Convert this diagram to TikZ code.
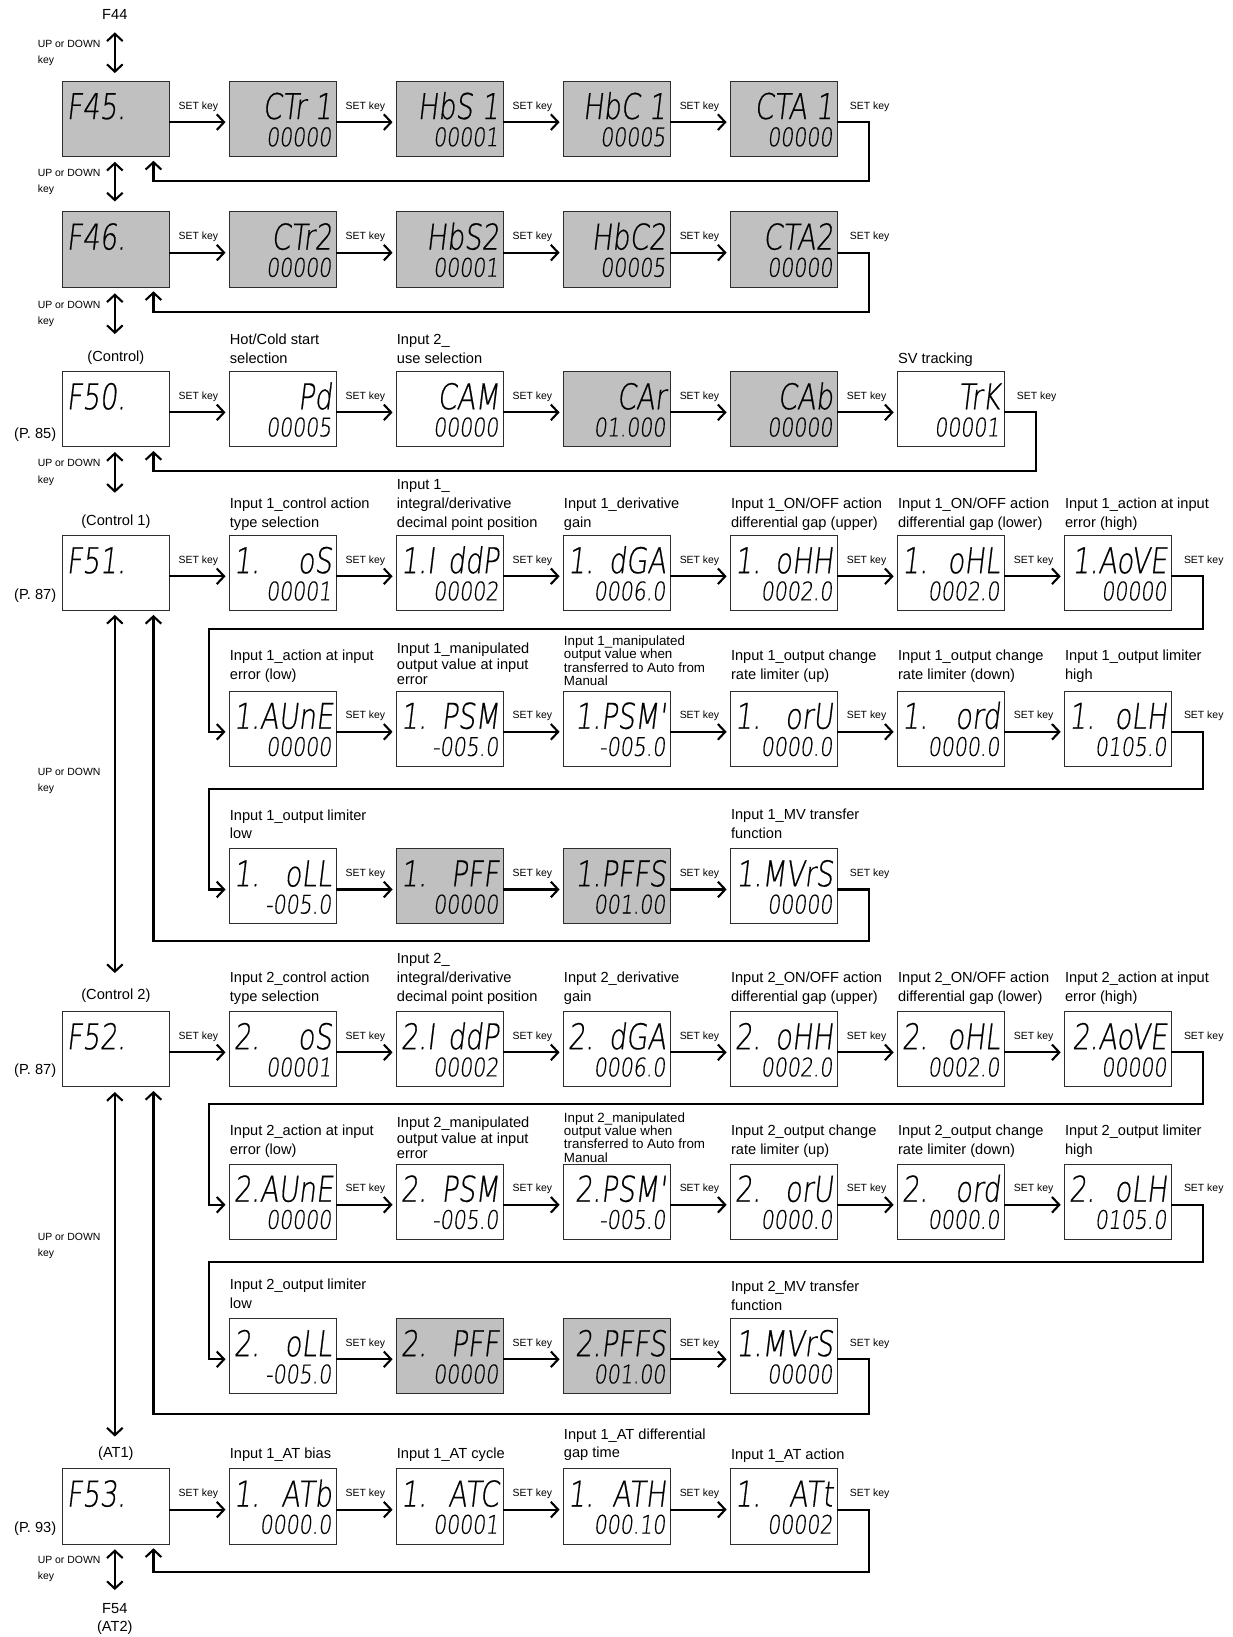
\documentclass[tikz,border=0pt]{standalone}
\usepackage{fontspec}
\setmainfont{Liberation Sans}
\IfFontExistsTF{DejaVu Sans ExtraLight}{%
 \newfontfamily\lcdfont[FakeSlant=0.12,FakeStretch=0.77,FakeBold=0.5]{DejaVu Sans ExtraLight}%
 \newfontfamily\lcdnum[FakeSlant=0.12,FakeStretch=0.80,FakeBold=0.4]{DejaVu Sans ExtraLight}}{%
 \newfontfamily\lcdfont[FakeSlant=0.12,FakeStretch=0.75]{Liberation Sans}%
 \newfontfamily\lcdnum[FakeSlant=0.12,FakeStretch=0.88]{Liberation Sans}}
\usetikzlibrary{arrows.meta,calc}
\definecolor{lcdg}{RGB}{192,192,192}
\definecolor{edgec}{RGB}{45,45,45}
\tikzset{
 dbox/.style={draw=edgec,line width=1pt,minimum width=102pt,minimum height=72pt,inner sep=0pt,outer sep=0pt},
 lcdgray/.style={fill=lcdg},
 lcdwhite/.style={fill=white},
 lcdt/.style={anchor=base east,inner sep=0pt,font=\lcdfont\fontsize{34pt}{34pt}\selectfont},
 lcdb/.style={anchor=base east,inner sep=0pt,font=\lcdnum\fontsize{24.5pt}{25pt}\selectfont},
 conn/.style={line width=2pt,-{Straight Barb[length=7pt,width=15pt]}},
 ud/.style={line width=2pt,{Straight Barb[length=7pt,width=15pt]}-{Straight Barb[length=7pt,width=15pt]}},
 lab/.style={anchor=north west,inner sep=0pt,align=left,font=\fontsize{14pt}{18pt}\selectfont},
 labm/.style={lab,font=\fontsize{14pt}{15pt}\selectfont},
 labs/.style={lab,font=\fontsize{12.8pt}{12.7pt}\selectfont},
 udl/.style={lab,font=\fontsize{10pt}{15.5pt}\selectfont},
 setkey/.style={anchor=base,inner sep=0pt,font=\fontsize{10pt}{12pt}\selectfont},
 side/.style={anchor=base,inner sep=0pt,font=\fontsize{14pt}{17pt}\selectfont},
}
\newcommand\dsp[6]{%
 \node[dbox,#4] (#1) at (#2+51,#3+36) {};
 \node[lcdt] (#1t) at (#2+98,#3+36) {\hbox to 94pt{\hfil #5}};
 \node[lcdb] (#1b) at (#2+97.5,#3+62) {#6};}
\newcommand\fnb[5]{%
 \node[dbox,#4] (#1) at (#2+51,#3+36) {};
 \node[lcdt,anchor=base west] (#1t) at (#2+3.5,#3+36) {#5};}
\newcommand\plab[5][lab]{\node[#1] (#2) at (#3,#4-7.2) {\rule{0pt}{12pt}#5};}
\newcommand\udlabel[2]{\node[udl] (#1) at (36,#2-8.4) {\rule{0pt}{12pt}UP or DOWN\\key};}
\newcommand\setarr[2]{%
 \draw[conn] ([yshift=-3pt]#1.east) -- ([yshift=-3pt,xshift=-4pt]#2.west);
 \node[setkey] (#1k) at ($(#1.east)!0.5!(#2.west)+(-1,-9.4)$) {SET key};}
\newcommand\tailkey[1]{\node[setkey] (#1k) at ($(#1.east)+(31,-9.4)$) {SET key};}
\begin{document}
\begin{tikzpicture}[x=1pt,y=-1pt]
\fill[white] (0,0) rectangle (1181,1568);
\useasboundingbox (0,0) rectangle (1181,1568);

% ---------- Row 1 (F45)
\fnb{r1c0}{60}{78}{lcdgray}{F45.}
\dsp{r1c1}{220}{78}{lcdgray}{CTr 1}{00000}
\dsp{r1c2}{380}{78}{lcdgray}{HbS 1}{00001}
\dsp{r1c3}{540}{78}{lcdgray}{HbC 1}{00005}
\dsp{r1c4}{700}{78}{lcdgray}{CTA 1}{00000}
% ---------- Row 2 (F46)
\fnb{r2c0}{60}{203}{lcdgray}{F46.}
\dsp{r2c1}{220}{203}{lcdgray}{CTr2}{00000}
\dsp{r2c2}{380}{203}{lcdgray}{HbS2}{00001}
\dsp{r2c3}{540}{203}{lcdgray}{HbC2}{00005}
\dsp{r2c4}{700}{203}{lcdgray}{CTA2}{00000}
% ---------- Row 3 (F50)
\fnb{r3c0}{60}{356}{lcdwhite}{F50.}
\dsp{r3c1}{220}{356}{lcdwhite}{Pd}{00005}
\dsp{r3c2}{380}{356}{lcdwhite}{CAM}{00000}
\dsp{r3c3}{540}{356}{lcdgray}{CAr}{01.000}
\dsp{r3c4}{700}{356}{lcdgray}{CAb}{00000}
\dsp{r3c5}{860}{356}{lcdwhite}{TrK}{00001}
\plab{l3c1}{220}{325}{Hot/Cold start\\selection}
\plab{l3c2}{380}{325}{Input 2\_\\use selection}
\plab{l3c5}{860}{343}{SV tracking}
% ---------- Row 4 (F51)
\fnb{r4c0}{60}{513}{lcdwhite}{F51.}
\dsp{r4c1}{220}{513}{lcdwhite}{1.\hfill oS}{00001}
\dsp{r4c2}{380}{513}{lcdwhite}{1.I\hfill ddP}{00002}
\dsp{r4c3}{540}{513}{lcdwhite}{1.\hfill dGA}{0006.0}
\dsp{r4c4}{700}{513}{lcdwhite}{1.\hfill oHH}{0002.0}
\dsp{r4c5}{860}{513}{lcdwhite}{1.\hfill oHL}{0002.0}
\dsp{r4c6}{1020}{513}{lcdwhite}{1.AoVE}{00000}
\plab{l4c1}{220}{482}{Input 1\_control action\\type selection}
\plab{l4c2}{380}{464}{Input 1\_\\integral/derivative\\decimal point position}
\plab{l4c3}{540}{482}{Input 1\_derivative\\gain}
\plab{l4c4}{700}{482}{Input 1\_ON/OFF action\\differential gap (upper)}
\plab{l4c5}{860}{482}{Input 1\_ON/OFF action\\differential gap (lower)}
\plab{l4c6}{1020}{482}{Input 1\_action at input\\error (high)}
% ---------- Row 5
\dsp{r5c1}{220}{662}{lcdwhite}{1.AUnE}{00000}
\dsp{r5c2}{380}{662}{lcdwhite}{1.\hfill PSM}{-005.0}
\dsp{r5c3}{540}{662}{lcdwhite}{1.PSM'}{-005.0}
\dsp{r5c4}{700}{662}{lcdwhite}{1.\hfill orU}{0000.0}
\dsp{r5c5}{860}{662}{lcdwhite}{1.\hfill ord}{0000.0}
\dsp{r5c6}{1020}{662}{lcdwhite}{1.\hfill oLH}{0105.0}
\plab{l5c1}{220}{628}{Input 1\_action at input\\error (low)}
\plab[labm]{l5c2}{380}{621}{Input 1\_manipulated\\output value at input\\error}
\plab[labs]{l5c3}{540}{613.5}{Input 1\_manipulated\\output value when\\transferred to Auto from\\Manual}
\plab{l5c4}{700}{628}{Input 1\_output change\\rate limiter (up)}
\plab{l5c5}{860}{628}{Input 1\_output change\\rate limiter (down)}
\plab{l5c6}{1020}{628}{Input 1\_output limiter\\high}
% ---------- Row 6
\dsp{r6c1}{220}{813}{lcdwhite}{1.\hfill oLL}{-005.0}
\dsp{r6c2}{380}{813}{lcdgray}{1.\hfill PFF}{00000}
\dsp{r6c3}{540}{813}{lcdgray}{1.PFFS}{001.00}
\dsp{r6c4}{700}{813}{lcdwhite}{1.MVrS}{00000}
\plab{l6c1}{220}{780.5}{Input 1\_output limiter\\low}
\plab{l6c4}{700}{780}{Input 1\_MV transfer\\function}
% ---------- Row 7 (F52)
\fnb{r7c0}{60}{969}{lcdwhite}{F52.}
\dsp{r7c1}{220}{969}{lcdwhite}{2.\hfill oS}{00001}
\dsp{r7c2}{380}{969}{lcdwhite}{2.I\hfill ddP}{00002}
\dsp{r7c3}{540}{969}{lcdwhite}{2.\hfill dGA}{0006.0}
\dsp{r7c4}{700}{969}{lcdwhite}{2.\hfill oHH}{0002.0}
\dsp{r7c5}{860}{969}{lcdwhite}{2.\hfill oHL}{0002.0}
\dsp{r7c6}{1020}{969}{lcdwhite}{2.AoVE}{00000}
\plab{l7c1}{220}{936}{Input 2\_control action\\type selection}
\plab{l7c2}{380}{918}{Input 2\_\\integral/derivative\\decimal point position}
\plab{l7c3}{540}{936}{Input 2\_derivative\\gain}
\plab{l7c4}{700}{936}{Input 2\_ON/OFF action\\differential gap (upper)}
\plab{l7c5}{860}{936}{Input 2\_ON/OFF action\\differential gap (lower)}
\plab{l7c6}{1020}{936}{Input 2\_action at input\\error (high)}
% ---------- Row 8
\dsp{r8c1}{220}{1115}{lcdwhite}{2.AUnE}{00000}
\dsp{r8c2}{380}{1115}{lcdwhite}{2.\hfill PSM}{-005.0}
\dsp{r8c3}{540}{1115}{lcdwhite}{2.PSM'}{-005.0}
\dsp{r8c4}{700}{1115}{lcdwhite}{2.\hfill orU}{0000.0}
\dsp{r8c5}{860}{1115}{lcdwhite}{2.\hfill ord}{0000.0}
\dsp{r8c6}{1020}{1115}{lcdwhite}{2.\hfill oLH}{0105.0}
\plab{l8c1}{220}{1083}{Input 2\_action at input\\error (low)}
\plab[labm]{l8c2}{380}{1075}{Input 2\_manipulated\\output value at input\\error}
\plab[labs]{l8c3}{540}{1070}{Input 2\_manipulated\\output value when\\transferred to Auto from\\Manual}
\plab{l8c4}{700}{1083}{Input 2\_output change\\rate limiter (up)}
\plab{l8c5}{860}{1083}{Input 2\_output change\\rate limiter (down)}
\plab{l8c6}{1020}{1083}{Input 2\_output limiter\\high}
% ---------- Row 9
\dsp{r9c1}{220}{1263}{lcdwhite}{2.\hfill oLL}{-005.0}
\dsp{r9c2}{380}{1263}{lcdgray}{2.\hfill PFF}{00000}
\dsp{r9c3}{540}{1263}{lcdgray}{2.PFFS}{001.00}
\dsp{r9c4}{700}{1263}{lcdwhite}{1.MVrS}{00000}
\plab{l9c1}{220}{1230}{Input 2\_output limiter\\low}
\plab{l9c4}{700}{1232}{Input 2\_MV transfer\\function}
% ---------- Row 10 (F53)
\fnb{r10c0}{60}{1407}{lcdwhite}{F53.}
\dsp{r10c1}{220}{1407}{lcdwhite}{1.\hfill ATb}{0000.0}
\dsp{r10c2}{380}{1407}{lcdwhite}{1.\hfill ATC}{00001}
\dsp{r10c3}{540}{1407}{lcdwhite}{1.\hfill ATH}{000.10}
\dsp{r10c4}{700}{1407}{lcdwhite}{1.\hfill ATt}{00002}
\plab{l10c1}{220}{1392}{Input 1\_AT bias}
\plab{l10c2}{380}{1392}{Input 1\_AT cycle}
\plab{l10c3}{540}{1373.5}{Input 1\_AT differential\\gap time}
\plab{l10c4}{700}{1393}{Input 1\_AT action}

% ---------- side texts
\node[side] (f44) at (110,18.4) {F44};
\node[side] (hd3) at (111,346) {(Control)};
\node[side] (hd4) at (111,503) {(Control 1)};
\node[side] (hd7) at (111,957) {(Control 2)};
\node[side] (hd10) at (111,1396.5) {(AT1)};
\node[side] (f54) at (110,1545) {F54};
\node[side] (at2) at (110,1562.5) {(AT2)};
\node[side,anchor=base east] (p3) at (54,420) {(P. 85)};
\node[side,anchor=base east] (p4) at (54,574.5) {(P. 87)};
\node[side,anchor=base east] (p7) at (54,1029) {(P. 87)};
\node[side,anchor=base east] (p10) at (54,1468) {(P. 93)};
\udlabel{u0}{41.5}
\udlabel{u1}{165}
\udlabel{u2}{291.5}
\udlabel{u3}{443.5}
\udlabel{u4}{739}
\udlabel{u5}{1184}
\udlabel{u6}{1494}

% ---------- up/down arrows
\draw[ud] ([xshift=-1pt,yshift=8pt]r1c0.north) -- ([xshift=-1pt,yshift=47pt]r1c0.north);
\draw[ud] ([xshift=-1pt,yshift=-5pt]r1c0.south) -- ([xshift=-1pt,yshift=10pt]r2c0.north);
\draw[ud] ([xshift=-1pt,yshift=-6pt]r2c0.south) -- ([xshift=-1pt,yshift=-45pt]r2c0.south);
\draw[ud] ([xshift=-1pt,yshift=-5pt]r3c0.south) -- ([xshift=-1pt,yshift=-44pt]r3c0.south);
\draw[ud] ([xshift=-1pt,yshift=-4pt]r4c0.south) -- ([xshift=-1pt,yshift=37pt]r7c0.north);
\draw[ud] ([xshift=-1pt,yshift=-5pt]r7c0.south) -- ([xshift=-1pt,yshift=31pt]r10c0.north);
\draw[ud] ([xshift=-1pt,yshift=-5pt]r10c0.south) -- ([xshift=-1pt,yshift=-44pt]r10c0.south);

% ---------- SET key arrows
\setarr{r1c0}{r1c1}\setarr{r1c1}{r1c2}\setarr{r1c2}{r1c3}\setarr{r1c3}{r1c4}\tailkey{r1c4}
\setarr{r2c0}{r2c1}\setarr{r2c1}{r2c2}\setarr{r2c2}{r2c3}\setarr{r2c3}{r2c4}\tailkey{r2c4}
\setarr{r3c0}{r3c1}\setarr{r3c1}{r3c2}\setarr{r3c2}{r3c3}\setarr{r3c3}{r3c4}\setarr{r3c4}{r3c5}\tailkey{r3c5}
\setarr{r4c0}{r4c1}\setarr{r4c1}{r4c2}\setarr{r4c2}{r4c3}\setarr{r4c3}{r4c4}\setarr{r4c4}{r4c5}\setarr{r4c5}{r4c6}\tailkey{r4c6}
\setarr{r5c1}{r5c2}\setarr{r5c2}{r5c3}\setarr{r5c3}{r5c4}\setarr{r5c4}{r5c5}\setarr{r5c5}{r5c6}\tailkey{r5c6}
\setarr{r6c1}{r6c2}\setarr{r6c2}{r6c3}\setarr{r6c3}{r6c4}\tailkey{r6c4}
\setarr{r7c0}{r7c1}\setarr{r7c1}{r7c2}\setarr{r7c2}{r7c3}\setarr{r7c3}{r7c4}\setarr{r7c4}{r7c5}\setarr{r7c5}{r7c6}\tailkey{r7c6}
\setarr{r8c1}{r8c2}\setarr{r8c2}{r8c3}\setarr{r8c3}{r8c4}\setarr{r8c4}{r8c5}\setarr{r8c5}{r8c6}\tailkey{r8c6}
\setarr{r9c1}{r9c2}\setarr{r9c2}{r9c3}\setarr{r9c3}{r9c4}\tailkey{r9c4}
\setarr{r10c0}{r10c1}\setarr{r10c1}{r10c2}\setarr{r10c2}{r10c3}\setarr{r10c3}{r10c4}\tailkey{r10c4}

% ---------- return paths
\coordinate (ret1) at (832,173);
\coordinate (ret2) at (832,298.5);
\coordinate (ret3) at (992,451);
\coordinate (ret4a) at (1152,602.5); \coordinate (ret4b) at (200,602.5);
\coordinate (ret5a) at (1152,756);   \coordinate (ret5b) at (200,756);
\coordinate (ret6) at (832,901);
\coordinate (ret7a) at (1152,1057.5); \coordinate (ret7b) at (200,1057.5);
\coordinate (ret8a) at (1152,1209);   \coordinate (ret8b) at (200,1209);
\coordinate (ret9) at (832,1354.5);
\coordinate (ret10) at (832,1505.5);
\draw[conn] ([yshift=-3pt]r1c4.east) -| (ret1) -| ([xshift=-15pt,yshift=-4pt]r1c0.south east);
\draw[conn] ([yshift=-3pt]r2c4.east) -| (ret2) -| ([xshift=-15pt,yshift=-4pt]r2c0.south east);
\draw[conn] ([yshift=-3pt]r3c5.east) -| (ret3) -| ([xshift=-15pt,yshift=-4pt]r3c0.south east);
\draw[conn] ([yshift=-3pt]r4c6.east) -| (ret4a) -- (ret4b) |- ([yshift=-3pt,xshift=-4pt]r5c1.west);
\draw[conn] ([yshift=-3pt]r5c6.east) -| (ret5a) -- (ret5b) |- ([yshift=-3pt,xshift=-4pt]r6c1.west);
\draw[conn] ([yshift=-3pt]r6c4.east) -| (ret6) -| ([xshift=-15pt,yshift=-4pt]r4c0.south east);
\draw[conn] ([yshift=-3pt]r7c6.east) -| (ret7a) -- (ret7b) |- ([yshift=-3pt,xshift=-4pt]r8c1.west);
\draw[conn] ([yshift=-3pt]r8c6.east) -| (ret8a) -- (ret8b) |- ([yshift=-3pt,xshift=-4pt]r9c1.west);
\draw[conn] ([yshift=-3pt]r9c4.east) -| (ret9) -| ([xshift=-15pt,yshift=-4pt]r7c0.south east);
\draw[conn] ([yshift=-3pt]r10c4.east) -| (ret10) -| ([xshift=-15pt,yshift=-4pt]r10c0.south east);
\end{tikzpicture}
\end{document}
